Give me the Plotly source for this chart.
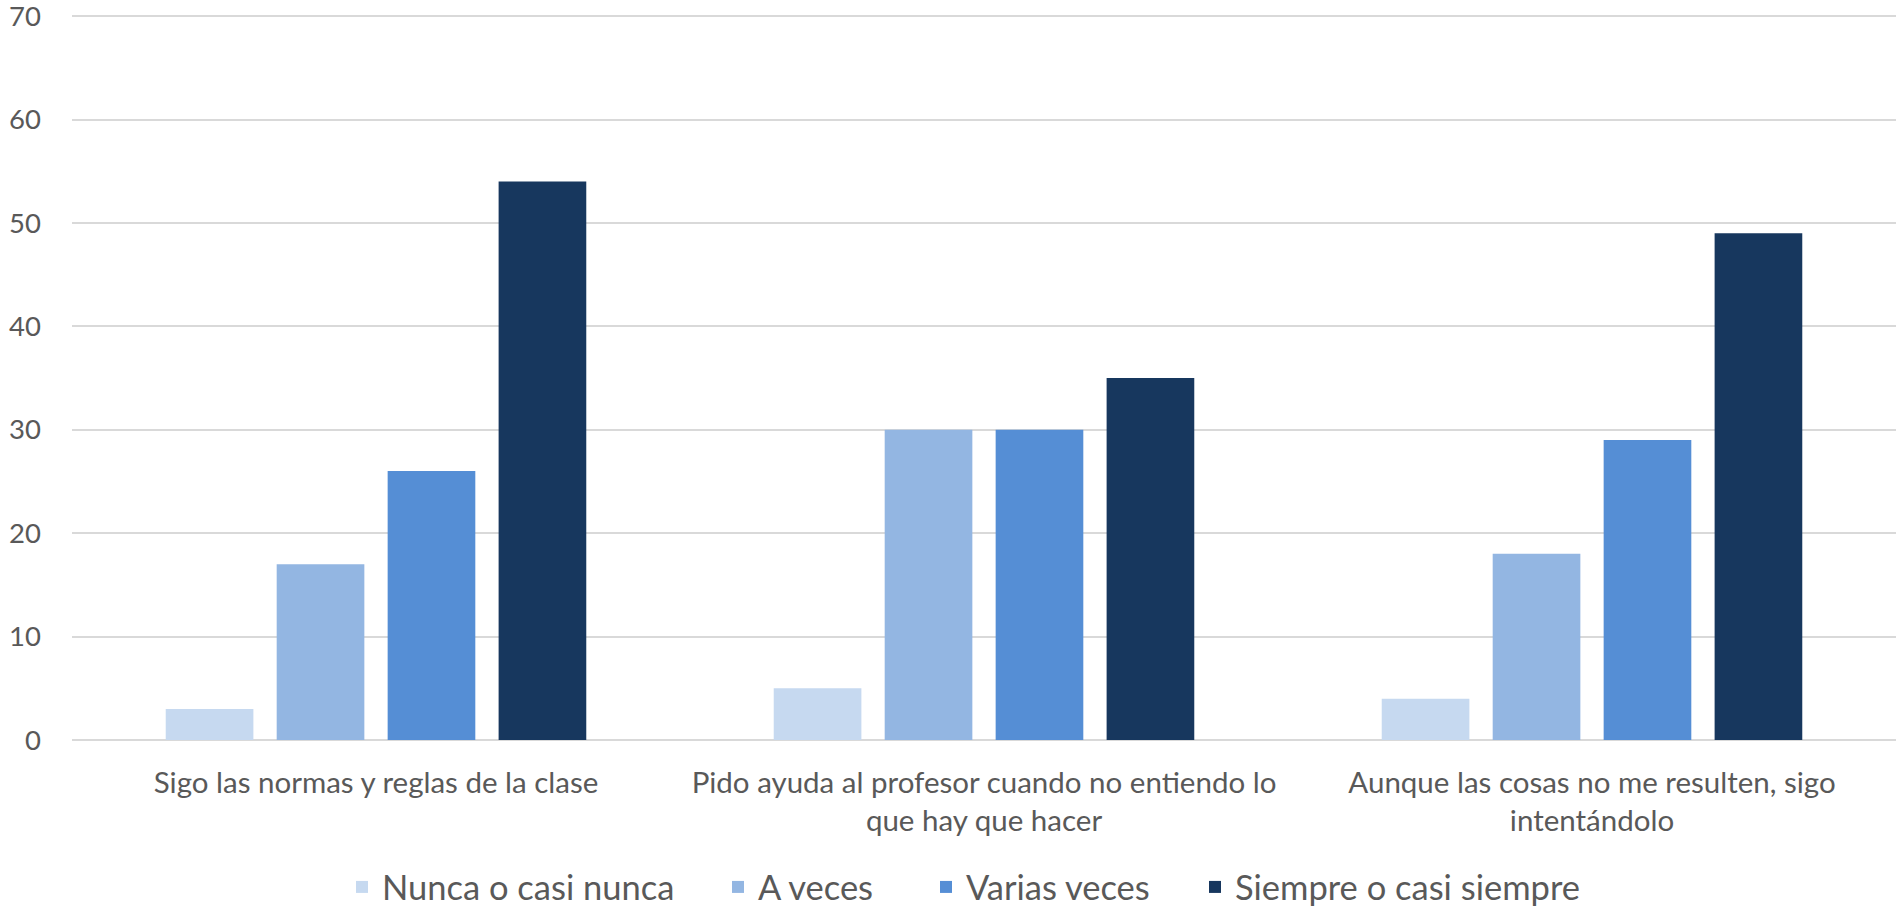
import plotly.graph_objects as go

categories = [
    "Sigo las normas y reglas de la clase",
    "Pido ayuda al profesor cuando no entiendo lo<br>que hay que hacer",
    "Aunque las cosas no me resulten, sigo<br>intentándolo",
]
series_names = ["Nunca o casi nunca", "A veces", "Varias veces", "Siempre o casi siempre"]
nunca = [3, 5, 4]
a_veces = [17, 30, 18]
varias = [26, 30, 29]
siempre = [54, 35, 49]
series_values = [nunca, a_veces, varias, siempre]
colors = ["#C6D9F0", "#93B6E2", "#558ED5", "#17375E"]
y_ticks = [0, 10, 20, 30, 40, 50, 60, 70]

FONT = "Lato, 'Open Sans', sans-serif"
TXT = "#595959"

# legend entry left positions (pixels in figure)
legend_px = [355, 731, 939, 1208]
PL, PW = 72, 1824

fig = go.Figure()
legend_ids = ["legend", "legend2", "legend3", "legend4"]
for name, vals, col, lid in zip(series_names, series_values, colors, legend_ids):
    fig.add_trace(go.Bar(x=categories, y=vals, name=name, legend=lid,
                         marker=dict(color=col, line=dict(width=0))))

leg_common = dict(orientation="h", xanchor="left", y=-0.2022, yanchor="middle",
                  font=dict(size=34.5, color=TXT, family=FONT), itemwidth=30,
                  bgcolor="rgba(0,0,0,0)")
layout_legends = {}
for lid, px in zip(legend_ids, legend_px):
    layout_legends[lid] = dict(leg_common, x=(px - PL - 13) / PW)

fig.update_layout(
    width=1898, height=910,
    margin=dict(l=72, r=2, t=13, b=170, autoexpand=False),
    paper_bgcolor="white", plot_bgcolor="white",
    barmode="group", bargap=0.27, bargroupgap=0.21,
    font=dict(family=FONT, color=TXT),
    showlegend=True,
    **layout_legends,
)
fig.update_yaxes(range=[0, 70.3], tickvals=y_ticks, showgrid=True, gridcolor="#D9D9D9", gridwidth=2,
                 zeroline=True, zerolinecolor="#D9D9D9", zerolinewidth=2, showline=False,
                 tickfont=dict(size=27.5, color=TXT, family=FONT), ticklabelstandoff=30,
                 ticklabeloverflow="allow")
fig.update_xaxes(showline=False, showgrid=False, tickfont=dict(size=29.5, color=TXT, family=FONT),
                 ticklabelstandoff=22)

fig.write_html("out.html", config={"displayModeBar": False},
               post_script="document.body.style.margin='0';document.body.style.overflow='hidden';")
